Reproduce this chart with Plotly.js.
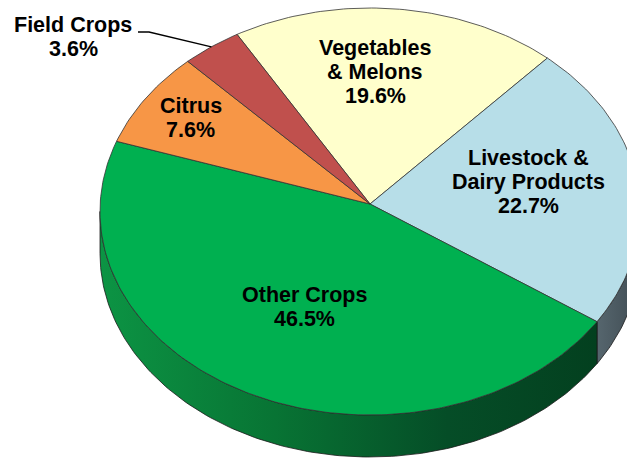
<!DOCTYPE html>
<html><head><meta charset="utf-8">
<script src="https://cdn.plot.ly/plotly-3.0.1.min.js"></script>
<style>html,body{margin:0;padding:0;background:#fff}#chart{width:627px;height:458px}</style>
</head><body><div id="chart"></div>
<script>
// ---- data ----
const categories = ['Vegetables & Melons', 'Livestock & Dairy Products', 'Other Crops', 'Citrus', 'Field Crops'];
const shares = [19.6, 22.7, 46.5, 7.6, 3.6];
const labelLines = [['Vegetables', '& Melons'], ['Livestock &', 'Dairy Products'], ['Other Crops'], ['Citrus'], ['Field Crops']];

// ---- styles / geometry ----
const topColors = ['#FFFFCC', '#B7DEE8', '#00B050', '#F79646', '#C0504D'];
const sideScales = [
  [[0, '#8c8c6e'], [1, '#6e6e55']],
  [[0, '#56666e'], [1, '#3f4b52']],
  [[0, '#0c9444'], [0.35, '#087434'], [0.7, '#054d27'], [1, '#03401f']],
  [[0, '#a05a28'], [1, '#80481f']],
  [[0, '#7a302e'], [1, '#5e2524']]
];
const G = {cx: 370, cy: 211.5, a: 270, b: 203.5, ax: 370, ay: 204, depth: 42, start: -29.5};
const labelR = [0.68, 0.6, 0.54, 0.8, null];
const labelShift = [[-13, 6], [-2, -5], [0, 5], [0, 5], [0, 0]];
const outside = {x: 73, y: 37, elbowX: 149, lineX: 138, lineY: 32};
const FONT = {family: 'Liberation Sans, Arial, sans-serif', size: 21.5, color: '#000', weight: 700};
const LINE_H = 24;

const rad = d => d * Math.PI / 180;
const ex = t => G.cx + G.a * Math.sin(rad(t));
const ey = t => G.cy - G.b * Math.cos(rad(t));

const total = shares.reduce((s, v) => s + v, 0);
const spans = [];
let acc = G.start;
shares.forEach(v => { const t0 = acc; acc += v / total * 360; spans.push([t0, acc]); });

const traces = [];
// sides (front visible: 90..270)
spans.forEach(([t0, t1], i) => {
  const lo = Math.max(t0, 90), hi = Math.min(t1, 270);
  if (hi <= lo) return;
  const xs = [], ys = [];
  const n = Math.max(2, Math.ceil(hi - lo));
  for (let k = 0; k <= n; k++) { const t = lo + (hi - lo) * k / n; xs.push(ex(t)); ys.push(ey(t)); }
  for (let k = n; k >= 0; k--) { const t = lo + (hi - lo) * k / n; xs.push(ex(t)); ys.push(ey(t) + G.depth); }
  xs.push(xs[0]); ys.push(ys[0]);
  traces.push({type: 'scatter', mode: 'lines', x: xs, y: ys, fill: 'toself',
    fillgradient: {type: 'horizontal', colorscale: sideScales[i]},
    line: {color: '#1a1a1a', width: 0.8}, hoverinfo: 'skip', showlegend: false});
});
// top faces
spans.forEach(([t0, t1], i) => {
  const xs = [G.ax], ys = [G.ay];
  const n = Math.max(2, Math.ceil(t1 - t0));
  for (let k = 0; k <= n; k++) { const t = t0 + (t1 - t0) * k / n; xs.push(ex(t)); ys.push(ey(t)); }
  xs.push(G.ax); ys.push(G.ay);
  traces.push({type: 'scatter', mode: 'lines', x: xs, y: ys, fill: 'toself', fillcolor: topColors[i],
    line: {color: '#333333', width: 0.8}, name: categories[i], hoverinfo: 'name', showlegend: false});
});

const annotations = [];
spans.forEach(([t0, t1], i) => {
  const mid = (t0 + t1) / 2;
  const lines = labelLines[i].concat([shares[i].toFixed(1) + '%']);
  let cx, cy;
  if (labelR[i] === null) {
    cx = outside.x; cy = outside.y;
    traces.push({type: 'scatter', mode: 'lines', x: [outside.lineX, outside.elbowX, ex(mid)], y: [outside.lineY, outside.lineY, ey(mid)],
      line: {color: '#000', width: 1.3}, hoverinfo: 'skip', showlegend: false});
  } else {
    cx = G.ax + labelR[i] * G.a * Math.sin(rad(mid)) + labelShift[i][0];
    cy = G.ay - labelR[i] * G.b * Math.cos(rad(mid)) + labelShift[i][1];
  }
  lines.forEach((txt, k) => {
    annotations.push({x: cx, y: cy + (k - (lines.length - 1) / 2) * LINE_H, xref: 'x', yref: 'y', text: txt,
      showarrow: false, xanchor: 'center', yanchor: 'middle', font: FONT});
  });
});

const layout = {
  width: 627, height: 458, margin: {l: 0, r: 0, t: 0, b: 0},
  paper_bgcolor: '#fff', plot_bgcolor: '#fff',
  xaxis: {range: [0, 627], visible: false, fixedrange: true},
  yaxis: {range: [458, 0], visible: false, fixedrange: true},
  annotations: annotations, showlegend: false
};
Plotly.newPlot('chart', traces, layout, {displayModeBar: false, staticPlot: true});
</script></body></html>
